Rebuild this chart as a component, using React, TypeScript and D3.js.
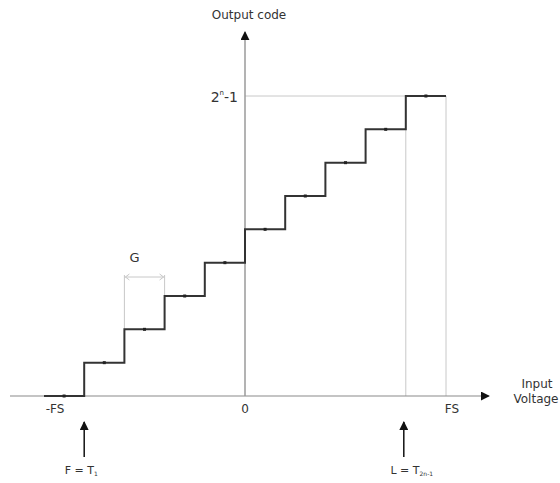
import React, { useEffect, useRef } from 'react';
import * as d3 from 'd3';

// step start inputs (in LSB units, -FS = -5, FS = 5) and their output codes
const stepStarts = [-5, -4, -3, -2, -1, 0, 1, 2, 3, 4];
const stepCodes = [0, 1, 2, 3, 4, 5, 6, 7, 8, 9];
const xTickLabels = [
  { v: -5, label: '-FS' },
  { v: 0, label: '0' },
  { v: 5, label: 'FS' },
];
const firstT = -4; // F = T1
const lastT = 4; // L = T(2^n-1)
const gapFrom = -3; // G span
const gapTo = -2;

const W = 560;
const H = 483;

const App: React.FC = () => {
  const svgRef = useRef<SVGSVGElement>(null);

  useEffect(() => {
    if (!svgRef.current) return;
    const svg = d3.select(svgRef.current);
    svg.selectAll('*').remove();

    const x = d3.scaleLinear().domain([-5, 5]).range([44, 446]);
    const y = d3.scaleLinear().domain([0, 9]).range([396, 96]);
    const font = 'DejaVu Sans, Verdana, sans-serif';

    const defs = svg.append('defs');
    defs.append('marker')
      .attr('id', 'arr')
      .attr('viewBox', '0 0 10 10')
      .attr('refX', 9).attr('refY', 5)
      .attr('markerWidth', 9).attr('markerHeight', 9)
      .attr('markerUnits', 'userSpaceOnUse')
      .attr('orient', 'auto')
      .append('path').attr('d', 'M0,0 L10,5 L0,10 Z').attr('fill', '#111');

    const x0 = x(0);
    const yBase = y(0);

    // light guide lines
    const guide = svg.append('g').attr('stroke', '#c8c8c8').attr('stroke-width', 1).attr('fill', 'none');
    guide.append('line').attr('x1', x0).attr('x2', x(5)).attr('y1', y(9)).attr('y2', y(9));
    [lastT, 5].forEach(v => {
      guide.append('line').attr('x1', x(v)).attr('x2', x(v)).attr('y1', y(9)).attr('y2', yBase);
    });

    // G dimension
    const gy = 277;
    guide.append('line').attr('x1', x(gapFrom)).attr('x2', x(gapFrom)).attr('y1', gy - 2).attr('y2', y(2));
    guide.append('line').attr('x1', x(gapTo)).attr('x2', x(gapTo)).attr('y1', gy - 2).attr('y2', y(3));
    guide.append('line').attr('x1', x(gapFrom)).attr('x2', x(gapTo)).attr('y1', gy).attr('y2', gy);
    guide.append('path').attr('d', `M${x(gapFrom) + 5},${gy - 3} L${x(gapFrom) + 1},${gy} L${x(gapFrom) + 5},${gy + 3}`);
    guide.append('path').attr('d', `M${x(gapTo) - 5},${gy - 3} L${x(gapTo) - 1},${gy} L${x(gapTo) - 5},${gy + 3}`);

    const txt = (tx: number, ty: number, s: string, size = 12) =>
      svg.append('text').attr('x', tx).attr('y', ty).attr('text-anchor', 'middle')
        .attr('font-family', font).attr('font-size', size).attr('fill', '#333').text(s);

    txt((x(gapFrom) + x(gapTo)) / 2 - 10, gy - 15, 'G', 13);

    // axes
    svg.append('line').attr('x1', 10).attr('x2', 489).attr('y1', yBase).attr('y2', yBase)
      .attr('stroke', '#8a8a8a').attr('stroke-width', 1.2).attr('marker-end', 'url(#arr)');
    svg.append('line').attr('x1', x0).attr('x2', x0).attr('y1', yBase).attr('y2', 32)
      .attr('stroke', '#9a9a9a').attr('stroke-width', 1.5).attr('marker-end', 'url(#arr)');

    // staircase
    const pts: [number, number][] = [];
    stepStarts.forEach((s, i) => {
      pts.push([s, stepCodes[i]]);
      pts.push([s + 1, stepCodes[i]]);
    });
    const line = d3.line<[number, number]>().x(d => x(d[0])).y(d => y(d[1]));
    svg.append('path').attr('d', line(pts)).attr('fill', 'none')
      .attr('stroke', '#333').attr('stroke-width', 2).attr('stroke-linejoin', 'miter');

    // mid-step marks
    svg.append('g').selectAll('rect').data(stepStarts).enter().append('rect')
      .attr('x', d => x(d + 0.5) - 1.5)
      .attr('y', (d, i) => y(stepCodes[i]) - 1.5)
      .attr('width', 3).attr('height', 3).attr('fill', '#222');

    // labels
    txt(249, 19, 'Output code', 12);
    txt(537, 388, 'Input', 12);
    txt(536, 403, 'Voltage', 12);
    xTickLabels.forEach(t => txt(x(t.v) + (t.v === -5 ? 11 : t.v === 5 ? 6 : 0), 413, t.label, 12));

    const yl = svg.append('text').attr('x', 238).attr('y', y(9) + 6).attr('text-anchor', 'end')
      .attr('font-family', font).attr('font-size', 14).attr('fill', '#333');
    yl.append('tspan').text('2');
    yl.append('tspan').attr('dy', -7).attr('font-size', 7).text('n');
    yl.append('tspan').attr('dy', 7).text('-1');

    // F and L arrows
    [firstT, lastT].forEach(v => {
      const ax = x(v) - (v === lastT ? 2 : 0);
      svg.append('line').attr('x1', ax).attr('x2', ax)
        .attr('y1', 457).attr('y2', 422)
        .attr('stroke', '#111').attr('stroke-width', 1.5).attr('marker-end', 'url(#arr)');
    });
    const fl = svg.append('text').attr('x', x(firstT) - 3).attr('y', 474).attr('text-anchor', 'middle')
      .attr('font-family', font).attr('font-size', 11).attr('fill', '#333');
    fl.append('tspan').text('F = T');
    fl.append('tspan').attr('dy', 2).attr('font-size', 6).text('1');
    const ll = svg.append('text').attr('x', x(lastT) + 6).attr('y', 474).attr('text-anchor', 'middle')
      .attr('font-family', font).attr('font-size', 11).attr('fill', '#333');
    ll.append('tspan').text('L = T');
    ll.append('tspan').attr('dy', 2).attr('font-size', 6).text('2n-1');
  }, []);

  return (
    <svg ref={svgRef} width={W} height={H}
      style={{ position: 'absolute', left: 0, top: 0, background: '#fff' }} />
  );
};

export default App;
